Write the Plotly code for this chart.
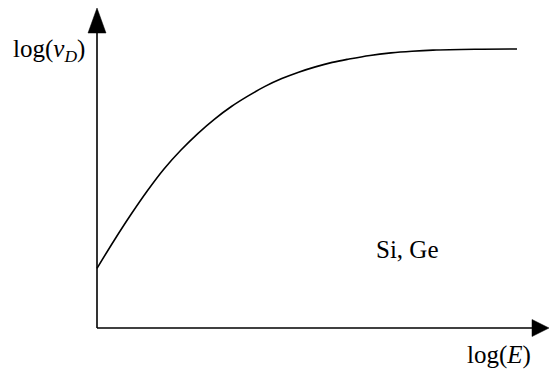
import plotly.graph_objects as go

# Drift velocity vs. field (schematic, log-log), Si / Ge
log_E = [0.0, 0.4, 0.8, 1.2, 1.6, 2.0, 2.4, 2.8, 3.2, 3.6, 4.0, 4.4, 4.8,
         5.2, 5.6, 6.0, 6.5, 7.0, 7.5, 8.0, 9.0, 10.0]
log_vD = [2.14, 3.12, 4.05, 4.92, 5.71, 6.38, 6.97, 7.49, 7.94, 8.32, 8.66, 8.94, 9.17,
          9.36, 9.52, 9.64, 9.77, 9.86, 9.92, 9.96, 9.99, 10.0]

x_label = "log(<i>E</i>)"
y_label = "log(<i>v</i><sub><i>D</i></sub>)"
material = "Si, Ge"

W, H = 549, 369
X0, Y0 = 97, 328          # origin in page pixels
KX, KY = 42.0, 27.9       # pixels per data unit


def dx(px):
    return (px - X0) / KX


def dy(py):
    return (Y0 - py) / KY


FONT = "Liberation Serif"
fig = go.Figure()

fig.add_trace(go.Scatter(x=log_E, y=log_vD, mode="lines",
                         line=dict(color="black", width=1.6, shape="spline", smoothing=1.0),
                         hoverinfo="skip", showlegend=False))

shapes = [
    # y axis + arrowhead
    dict(type="line", x0=0, y0=0, x1=0, y1=dy(30), line=dict(color="black", width=1.6)),
    dict(type="path",
         path=f"M {dx(X0)} {dy(8)} L {dx(X0 - 9)} {dy(33)} L {dx(X0 + 9)} {dy(33)} Z",
         fillcolor="black", line=dict(color="black", width=0.5)),
    # x axis + arrowhead
    dict(type="line", x0=0, y0=0, x1=dx(535), y1=0, line=dict(color="black", width=1.6)),
    dict(type="path",
         path=f"M {dx(549)} {dy(Y0)} L {dx(532)} {dy(Y0 - 8.5)} L {dx(532)} {dy(Y0 + 8.5)} Z",
         fillcolor="black", line=dict(color="black", width=0.5)),
]

annotations = [
    dict(x=dx(87), y=dy(50), text=y_label, showarrow=False, xanchor="right", yanchor="middle",
         font=dict(family=FONT, size=25, color="black")),
    dict(x=dx(499), y=dy(355), text=x_label, showarrow=False, xanchor="center", yanchor="middle",
         font=dict(family=FONT, size=25, color="black")),
    dict(x=dx(407), y=dy(249), text=material, showarrow=False, xanchor="center", yanchor="middle",
         font=dict(family=FONT, size=25, color="black")),
]

fig.update_layout(
    width=W, height=H,
    margin=dict(l=0, r=0, t=0, b=0),
    paper_bgcolor="white", plot_bgcolor="white",
    xaxis=dict(range=[dx(0), dx(W)], visible=False, fixedrange=True),
    yaxis=dict(range=[dy(H), dy(0)], visible=False, fixedrange=True),
    shapes=shapes, annotations=annotations,
    showlegend=False,
)

fig.write_html("out.html")
